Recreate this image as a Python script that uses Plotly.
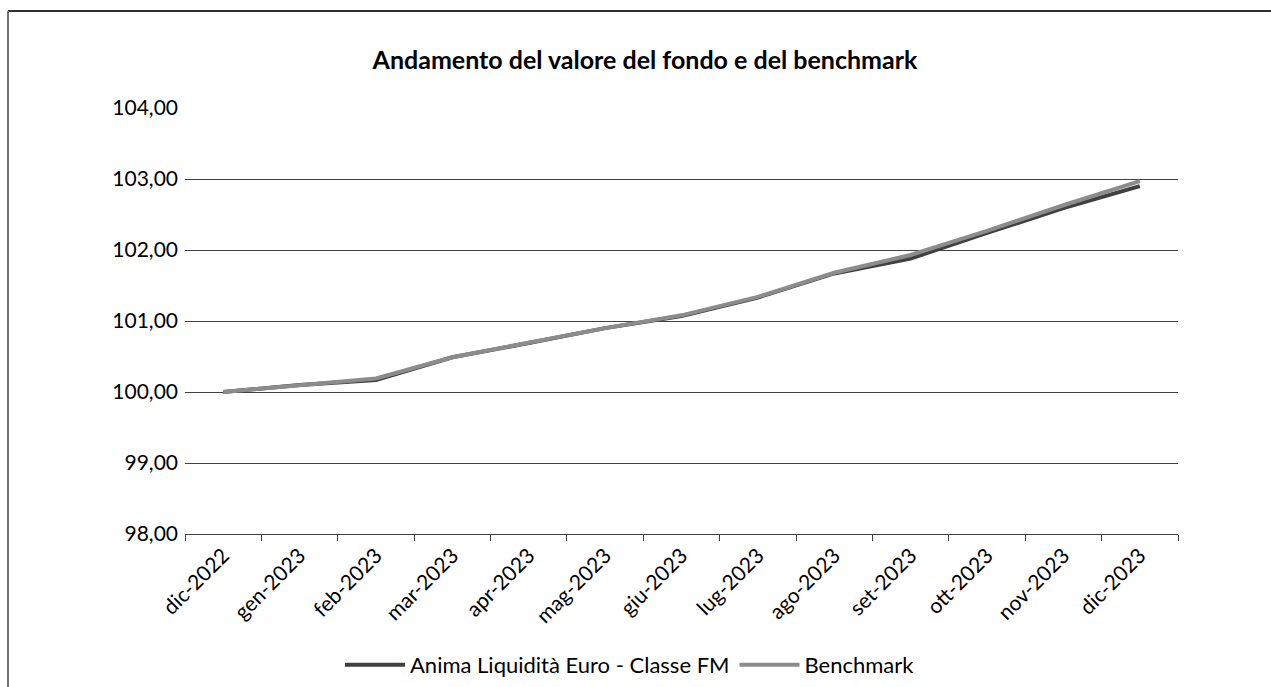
import plotly.graph_objects as go

categories = ["dic-2022", "gen-2023", "feb-2023", "mar-2023", "apr-2023", "mag-2023",
              "giu-2023", "lug-2023", "ago-2023", "set-2023", "ott-2023", "nov-2023", "dic-2023"]
fondo = [100.00, 100.10, 100.17, 100.49, 100.69, 100.90, 101.07, 101.33, 101.67, 101.88, 102.24, 102.59, 102.90]
benchmark = [100.00, 100.10, 100.19, 100.49, 100.69, 100.90, 101.08, 101.34, 101.68, 101.93, 102.27, 102.63, 102.97]
y_ticks = [98, 99, 100, 101, 102, 103, 104]

W, H = 1271, 687
L, R, T, B = 185, 1178, 108, 534

fig = go.Figure()
fig.add_trace(go.Scatter(x=categories, y=fondo, mode="lines",
                         name="Anima Liquidità Euro - Classe FM",
                         line=dict(color="#404040", width=4)))
fig.add_trace(go.Scatter(x=categories, y=benchmark, mode="lines",
                         name="Benchmark",
                         line=dict(color="#8c8c8c", width=4)))

def px(x):
    return (x - L) / (R - L)

def py(y):
    return (B - y) / (B - T)

fig.update_layout(
    width=W, height=H,
    margin=dict(l=L, r=W - R, t=T, b=H - B),
    paper_bgcolor="white", plot_bgcolor="white",
    separators=",.",
    font=dict(family="Lato", size=21, color="#000000"),
    title=dict(text="<b>Andamento del valore del fondo e del benchmark</b>",
               x=645 / W, xref="container", xanchor="center",
               y=1 - 60 / H, yref="container", yanchor="middle",
               font=dict(family="Lato", size=25, color="#000000")),
    showlegend=True,
    legend=dict(orientation="h", x=630 / W, xref="container", xanchor="center",
                y=1 - 665 / H, yref="container", yanchor="middle",
                font=dict(family="Lato", size=22, color="#000000"),
                itemwidth=60, traceorder="normal"),
    xaxis=dict(type="category", range=[-0.5, 12.5], tickson="boundaries",
               ticks="outside", ticklen=6, tickcolor="#404040",
               showline=True, linecolor="#404040", linewidth=1,
               showgrid=False, tickangle=-45,
               tickfont=dict(family="Lato", size=21, color="#000000")),
    yaxis=dict(range=[98, 104], tickvals=y_ticks, tickformat=".2f",
               showgrid=True, gridcolor="#404040", gridwidth=1,
               zeroline=False, showline=False, ticks="",
               ticklabelstandoff=6,
               tickfont=dict(family="Lato", size=21, color="#000000")),
    shapes=[
        dict(type="line", xref="paper", yref="paper", x0=px(8), x1=px(W), y0=py(11), y1=py(11),
             line=dict(color="#303030", width=2)),
        dict(type="line", xref="paper", yref="paper", x0=px(8), x1=px(8), y0=py(11), y1=py(H),
             line=dict(color="#707070", width=2)),
    ],
)

fig.write_html("out.html")
